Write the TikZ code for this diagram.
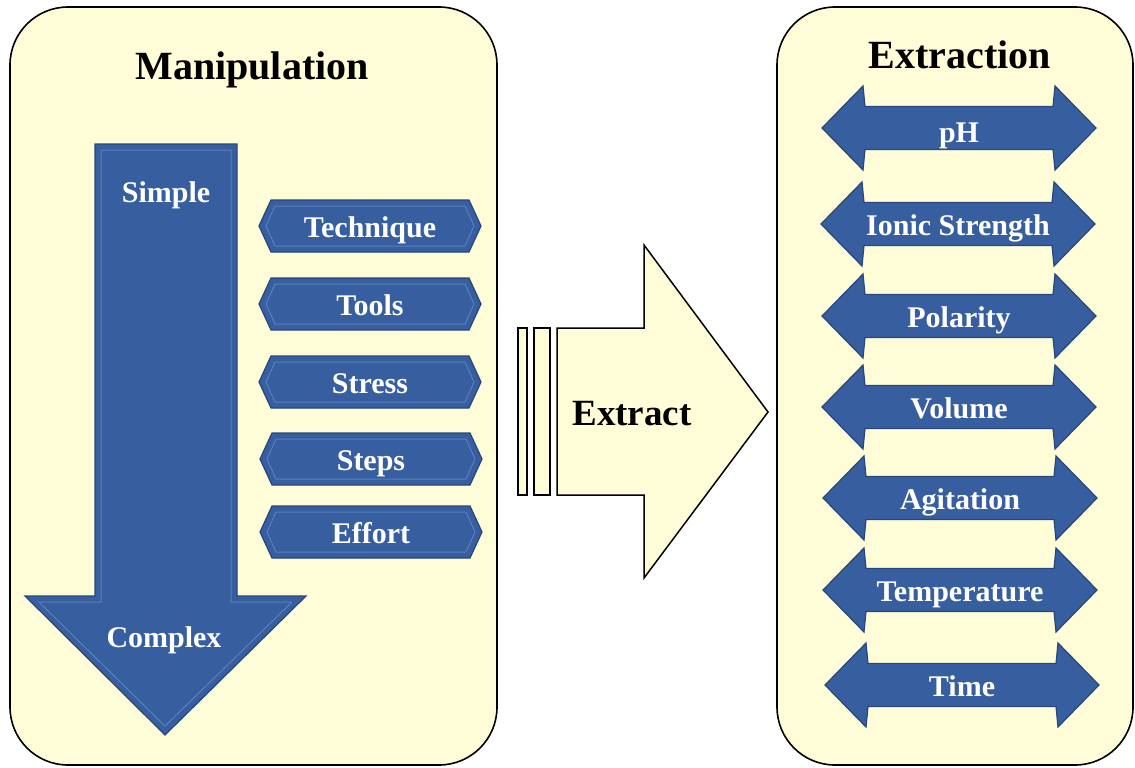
\documentclass[tikz,border=0pt]{standalone}
\usepackage{fontspec}
\setmainfont{Liberation Serif}
\usepackage{tikz}

\definecolor{panelfill}{HTML}{FFFDD8}
\definecolor{bluefill}{HTML}{375E9F}
\definecolor{blueedge}{HTML}{27477C}
\definecolor{bluelight}{HTML}{5A7FBE}

\tikzstyle{panel} = [draw=black, line width=1.6pt, fill=panelfill, rounded corners=58pt]
\tikzstyle{bluebody} = [fill=bluefill, draw=blueedge, line width=1.2pt]
\tikzstyle{bevel} = [draw=bluelight, line width=1pt]
\tikzstyle{creambody} = [fill=panelfill, draw=black, line width=1.5pt]
\tikzstyle{headtext} = [font=\fontsize{40}{40}\selectfont\bfseries, anchor=base, inner sep=0pt]
\tikzstyle{boxtext} = [font=\fontsize{30}{30}\selectfont\bfseries, text=white, anchor=base, inner sep=0pt]

% hexagon box: name, centre x, centre y, text
\newcommand{\hexbox}[4]{%
  \draw [bluebody] (#2-111,#3) -- (#2-99,#3-26) -- (#2+99,#3-26) -- (#2+111,#3) -- (#2+99,#3+26) -- (#2-99,#3+26) -- cycle;
  \draw [bevel] (#2-104,#3) -- (#2-95,#3-20) -- (#2+95,#3-20) -- (#2+104,#3) -- (#2+95,#3+20) -- (#2-95,#3+20) -- cycle;
  \node (#1) [boxtext] at (#2,#3+11) {#4};
}
% double arrow shape: centre x, centre y
\newcommand{\dblarrow}[2]{%
  \draw [bluebody] (#1-137,#2) -- (#1-96,#2-42) -- (#1-94,#2-21.5) -- (#1+94,#2-21.5) -- (#1+96,#2-42) -- (#1+137,#2) -- (#1+96,#2+42) -- (#1+94,#2+21.5) -- (#1-94,#2+21.5) -- (#1-96,#2+42) -- cycle;
}

\begin{document}
\begin{tikzpicture}[x=1pt, y=-1pt]
    \useasboundingbox (0,0) rectangle (1135,768);

    % panels
    \draw [panel] (10,7) rectangle (497,765);
    \draw [panel] (777,7) rectangle (1133,765);
    \node (manip) [headtext] at (252,79) {Manipulation};
    \node (extraction) [headtext] at (960,68) {Extraction};

    % simple -> complex arrow
    \draw [bluebody] (95,144) -- (237,144) -- (237,596) -- (306,596) -- (165,735) -- (25,596) -- (95,596) -- cycle;
    \draw [bevel] (101,150) -- (231,150) -- (231,602) -- (292,602) -- (165,726) -- (39,602) -- (101,602) -- cycle;
    \node (simple) [boxtext] at (166,202) {Simple};
    \node (complex) [boxtext] at (164,647) {Complex};

    \hexbox{technique}{370}{226}{Technique}
    \hexbox{tools}{370}{304}{Tools}
    \hexbox{stress}{370}{382}{Stress}
    \hexbox{steps}{371}{459}{Steps}
    \hexbox{effort}{371}{532}{Effort}

    % extract arrow
    \draw [creambody] (518,328) rectangle (527,495);
    \draw [creambody] (534,328) rectangle (550,495);
    \draw [creambody] (557,328) -- (644,328) -- (644,245) -- (768,412) -- (644,578) -- (644,495) -- (557,495) -- cycle;
    \node (extract) [headtext, font=\fontsize{37}{37}\selectfont\bfseries] at (632,425) {Extract};

    \dblarrow{959}{128}
    \node (ph) [boxtext] at (959,142) {pH};
    \dblarrow{958}{224}
    \node (ionic) [boxtext] at (958,235) {Ionic Strength};
    \dblarrow{959}{316}
    \node (polarity) [boxtext] at (959,327) {Polarity};
    \dblarrow{959}{407}
    \node (volume) [boxtext] at (959,418) {Volume};
    \dblarrow{960}{498}
    \node (agitation) [boxtext] at (960,509) {Agitation};
    \dblarrow{960}{590}
    \node (temperature) [boxtext] at (960,601) {Temperature};
    \dblarrow{962}{685}
    \node (time) [boxtext] at (962,696) {Time};

\end{tikzpicture}
\end{document}
